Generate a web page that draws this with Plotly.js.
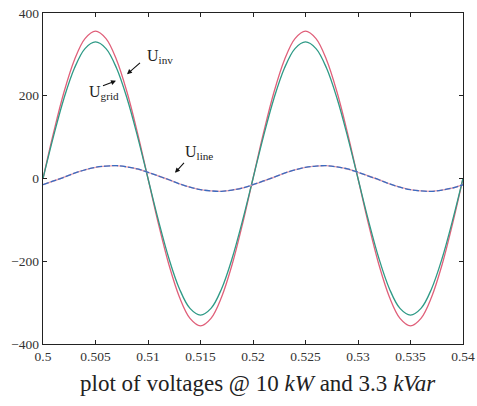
<!DOCTYPE html>
<html>
<head>
<meta charset="utf-8">
<script src="https://cdn.plot.ly/plotly-3.0.1.min.js"></script>
<style>html,body{margin:0;padding:0;background:#fff;}#chart{width:477px;height:406px;}</style>
</head>
<body>
<div id="chart"></div>
<script>
// time axis (s)
const time = [0.500,0.501,0.502,0.503,0.504,0.505,0.506,0.507,0.508,0.509,
              0.510,0.511,0.512,0.513,0.514,0.515,0.516,0.517,0.518,0.519,
              0.520,0.521,0.522,0.523,0.524,0.525,0.526,0.527,0.528,0.529,
              0.530,0.531,0.532,0.533,0.534,0.535,0.536,0.537,0.538,0.539,0.540];
// inverter voltage U_inv (V)
const uInv = [0,110,209,287,338,356,338,287,209,110,
              0,-110,-209,-287,-338,-356,-338,-287,-209,-110,
              0,110,209,287,338,356,338,287,209,110,
              0,-110,-209,-287,-338,-356,-338,-287,-209,-110,0];
// grid voltage U_grid (V)
const uGrid = [0,102,194,267,314,330,314,267,194,102,
               0,-102,-194,-267,-314,-330,-314,-267,-194,-102,
               0,102,194,267,314,330,314,267,194,102,
               0,-102,-194,-267,-314,-330,-314,-267,-194,-102,0];
// line voltage U_line (V)
const uLine = [-15,-6,3,13,21,27,30,31,28,23,
               15,6,-3,-13,-21,-27,-30,-31,-28,-23,
               -15,-6,3,13,21,27,30,31,28,23,
               15,6,-3,-13,-21,-27,-30,-31,-28,-23,-15];
const xTicks = [0.5,0.505,0.51,0.515,0.52,0.525,0.53,0.535,0.54];
const xTickText = ['0.5','0.505','0.51','0.515','0.52','0.525','0.53','0.535','0.54'];
const yTicks = [-400,-200,0,200,400];
const yTickText = ['\u2212400','\u2212200','0','200','400'];

const serif = 'Liberation Serif, Times New Roman, serif';

const traces = [
  {x: time, y: uInv, mode: 'lines', line: {color: '#e0607a', width: 1.3, shape: 'spline'}, hoverinfo: 'skip'},
  {x: time, y: uGrid, mode: 'lines', line: {color: '#2e9a86', width: 1.3, shape: 'spline'}, hoverinfo: 'skip'},
  {x: time, y: uLine, mode: 'lines', line: {color: '#e8a0b0', width: 1.4, shape: 'spline'}, hoverinfo: 'skip'},
  {x: time, y: uLine, mode: 'lines', line: {color: '#3a6cc0', width: 1.3, shape: 'spline', dash: '6px,2px'}, hoverinfo: 'skip'}
];

const arrowStyle = {showarrow: true, arrowhead: 2, arrowsize: 0.9, arrowwidth: 1.1, arrowcolor: '#111', text: ' ', xref: 'x', yref: 'y'};
const labFont = {family: serif, size: 16, color: '#222'};

const layout = {
  width: 477, height: 406,
  margin: {l: 43, r: 14, t: 13, b: 62},
  paper_bgcolor: '#fff', plot_bgcolor: '#fff',
  showlegend: false,
  xaxis: {
    range: [0.5, 0.54], tickvals: xTicks, ticktext: xTickText,
    ticks: 'inside', ticklen: 4, tickcolor: '#222', tickwidth: 1,
    showline: true, linecolor: '#222', linewidth: 1.2, mirror: 'ticks',
    showgrid: false, zeroline: false,
    tickfont: {family: serif, size: 13.5, color: '#333'}
  },
  yaxis: {
    range: [-400, 400], tickvals: yTicks, ticktext: yTickText,
    ticks: 'inside', ticklen: 4, tickcolor: '#222', tickwidth: 1,
    showline: true, linecolor: '#222', linewidth: 1.2, mirror: 'ticks',
    showgrid: false, zeroline: false,
    tickfont: {family: serif, size: 13.5, color: '#333'}
  },
  annotations: [
    Object.assign({}, arrowStyle, {x: 0.5080, y: 252, ax: 16, ay: -14}),
    Object.assign({}, arrowStyle, {x: 0.50695, y: 236, ax: -16, ay: 6}),
    Object.assign({}, arrowStyle, {x: 0.51257, y: 14, ax: 12, ay: -13}),
    {x: 0.50971, y: 294, xref: 'x', yref: 'y', xanchor: 'left', yanchor: 'middle', showarrow: false, text: 'U<sub>inv</sub>', font: labFont},
    {x: 0.50419, y: 207, xref: 'x', yref: 'y', xanchor: 'left', yanchor: 'middle', showarrow: false, text: 'U<sub>grid</sub>', font: labFont},
    {x: 0.51333, y: 64, xref: 'x', yref: 'y', xanchor: 'left', yanchor: 'middle', showarrow: false, text: 'U<sub>line</sub>', font: labFont},
    {x: 0.512, y: -0.118, xref: 'paper', yref: 'paper', xanchor: 'center', yanchor: 'middle', showarrow: false,
     text: 'plot of voltages @ 10 <i>kW</i> and 3.3 <i>kVar</i>', font: {family: serif, size: 23, color: '#222'}}
  ]
};

Plotly.newPlot('chart', traces, layout, {displayModeBar: false, staticPlot: true});
</script>
</body>
</html>
